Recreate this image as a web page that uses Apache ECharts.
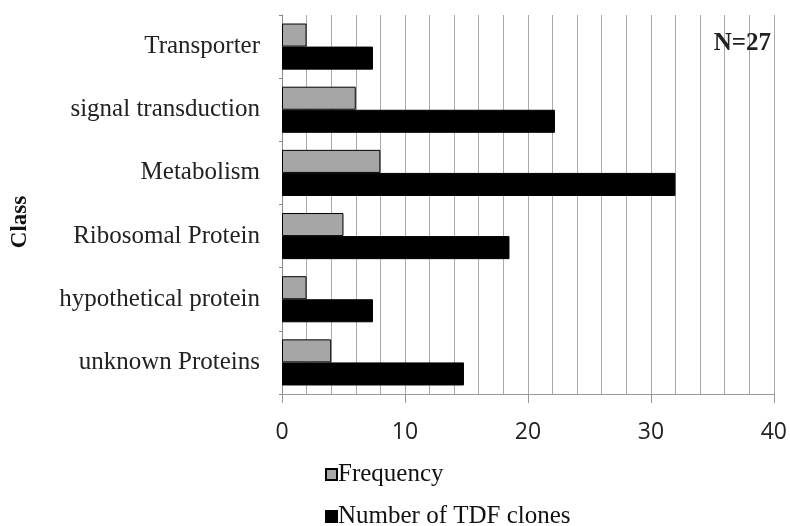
<!DOCTYPE html>
<html>
<head>
<meta charset="utf-8">
<script src="https://cdn.jsdelivr.net/npm/echarts@6/dist/echarts.min.js"></script>
<style>html,body{margin:0;padding:0;background:#fff;}#c{width:790px;height:526px;}</style>
</head>
<body>
<div id="c"></div>
<script>
var categories = ['Transporter', 'signal transduction', 'Metabolism', 'Ribosomal Protein', 'hypothetical protein', 'unknown Proteins'];
var frequency = [2, 6, 8, 5, 2, 4];
var tdfClones = [7.4, 22.2, 32, 18.5, 7.4, 14.8];
var xTicks = [0, 10, 20, 30, 40];
var seriesNames = ['Frequency', 'Number of TDF clones'];

var chart = echarts.init(document.getElementById('c'), null, {renderer: 'canvas'});
var serif = '"Liberation Serif", "DejaVu Serif", serif';
var legendText = {fontFamily: serif, fontSize: 25, color: '#111', padding: [0, 0, 0, -4]};
chart.setOption({
  animation: false,
  backgroundColor: '#fff',
  title: {
    text: 'N=27', right: 19, top: 31, padding: 0,
    textStyle: {fontFamily: serif, fontWeight: 'bold', fontSize: 25, color: '#222'}
  },
  graphic: [{
    type: 'text', x: 20, y: 222, rotation: Math.PI / 2,
    style: {text: 'Class', fontFamily: serif, fontWeight: 'bold', fontSize: 23, fill: '#111', align: 'center', verticalAlign: 'middle'}
  }],
  grid: {left: 282, right: 13, top: 15, bottom: 132, containLabel: false},
  legend: [
    {orient: 'vertical', left: 325, top: 462, padding: 0, itemWidth: 11, itemHeight: 11, icon: 'rect',
     textStyle: legendText, data: [seriesNames[0]]},
    {orient: 'vertical', left: 325, top: 504, padding: 0, itemWidth: 11, itemHeight: 11, icon: 'rect',
     textStyle: legendText, data: [seriesNames[1]]}
  ],
  xAxis: {
    type: 'value', min: xTicks[0], max: xTicks[xTicks.length - 1], interval: 10,
    axisLine: {show: true, lineStyle: {color: '#999'}},
    axisTick: {show: true, length: 9, lineStyle: {color: '#999'}},
    axisLabel: {margin: 27, fontFamily: '"Open Sans", sans-serif', fontSize: 23, color: '#222'},
    splitLine: {show: true, lineStyle: {color: '#aaa', width: 1}},
    minorTick: {show: false, splitNumber: 5},
    minorSplitLine: {show: true, lineStyle: {color: '#aaa', width: 1}}
  },
  yAxis: {
    type: 'category', data: categories, inverse: true,
    axisLine: {show: true, lineStyle: {color: '#888'}},
    axisTick: {show: true, length: 3, lineStyle: {color: '#888'}},
    axisLabel: {margin: 22, fontFamily: serif, fontSize: 25, color: '#222'}
  },
  series: [
    {
      name: seriesNames[0], type: 'bar', data: frequency,
      barGap: '0%', barCategoryGap: '27%',
      itemStyle: {color: '#a6a6a6', borderColor: '#000', borderWidth: 1}
    },
    {
      name: seriesNames[1], type: 'bar', data: tdfClones,
      barGap: '0%', barCategoryGap: '27%',
      itemStyle: {color: '#000', borderColor: '#000', borderWidth: 1}
    }
  ]
});
</script>
</body>
</html>
